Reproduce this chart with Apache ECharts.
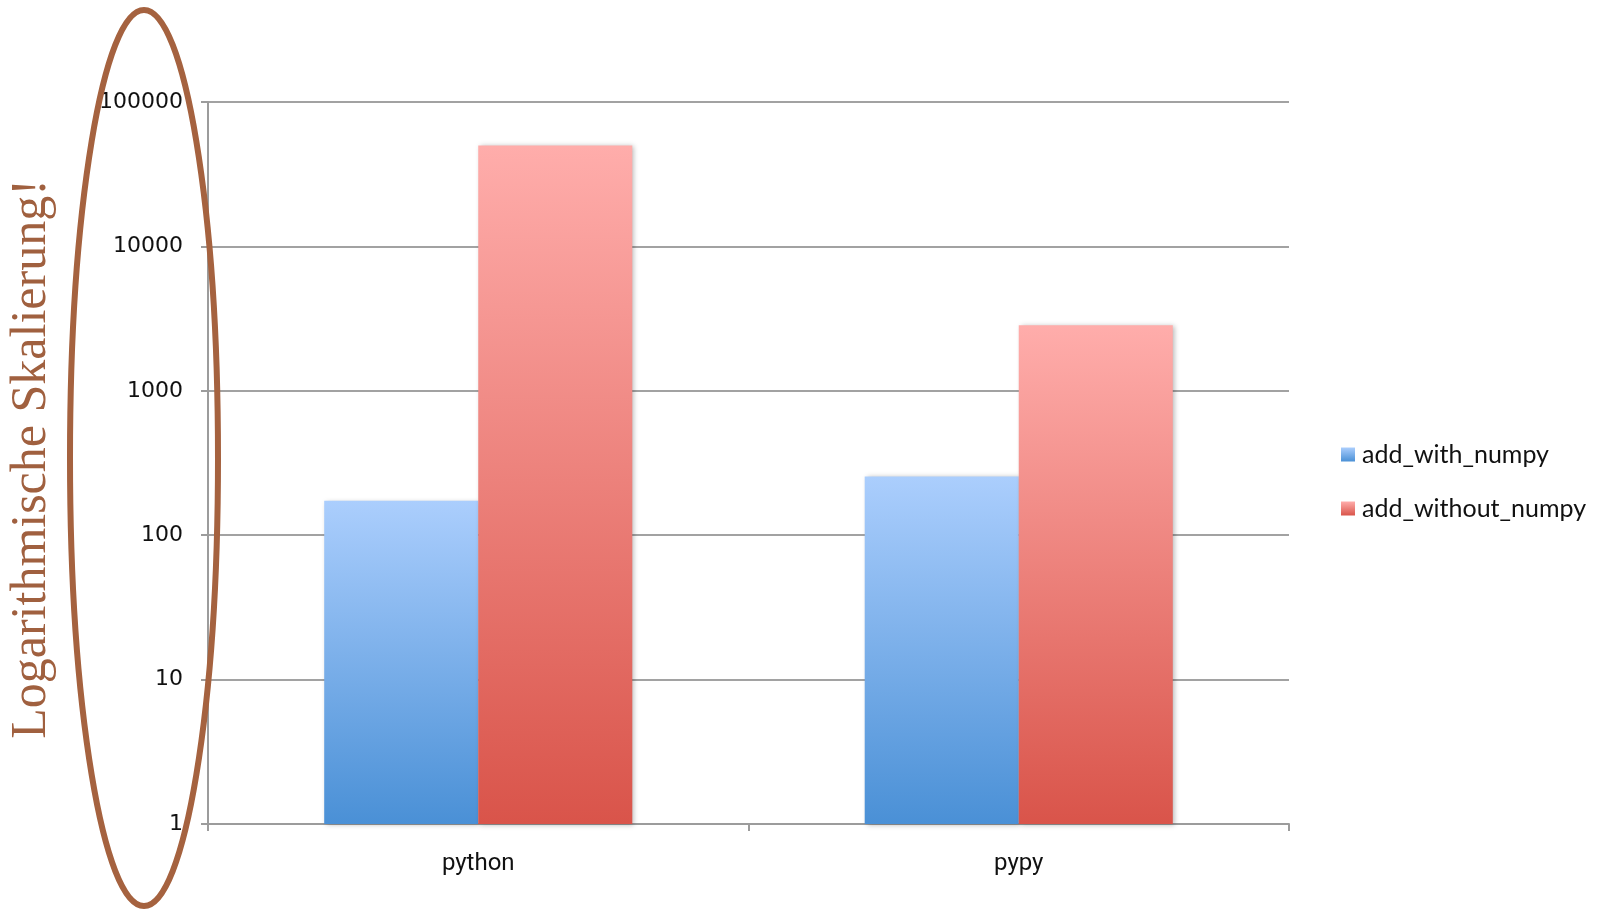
<!DOCTYPE html>
<html>
<head>
<meta charset="utf-8">
<script src="https://cdn.jsdelivr.net/npm/echarts@6/dist/echarts.min.js"></script>
<style>
  html, body { margin: 0; padding: 0; background: #fff; }
  #chart-panel { width: 1598px; height: 910px; }
</style>
</head>
<body>
<div id="chart-panel"></div>
<script>
const categories = ['python', 'pypy']
const seriesNames = ['add_with_numpy', 'add_without_numpy']
const withNumpy = [173, 255]
const withoutNumpy = [50000, 2840]
const yTicks = [1, 10, 100, 1000, 10000, 100000]

! function(){
    let myChart = echarts.init(document.getElementById('chart-panel'))

    /* 竖直渐变. */
    function grad(top, bottom) {
        return new echarts.graphic.LinearGradient(0, 0, 0, 1, [
            { offset: 0, color: top },
            { offset: 1, color: bottom }
        ])
    }

    let barShadow = {
        shadowBlur: 5,
        shadowOffsetX: 2,
        shadowOffsetY: 1,
        shadowColor: 'rgba(0,0,0,0.28)'
    }

    myChart.setOption({
        animation: false,
        grid: { left: 208, top: 102, right: 309, bottom: 86, outerBoundsMode: 'none', containLabel: false },
        legend: {
            orient: 'vertical',
            left: 1336,
            top: 437,
            itemWidth: 14,
            itemHeight: 14,
            itemGap: 29,
            icon: 'rect',
            textStyle: { fontFamily: 'Lato', fontSize: 25, color: '#111', padding: [0, 0, 0, 2] },
            data: seriesNames
        },
        xAxis: {
            type: 'category',
            data: categories,
            axisLine: { lineStyle: { color: '#9c9c9c', width: 2 } },
            axisTick: { show: true, length: 7, lineStyle: { color: '#9c9c9c', width: 2 } },
            axisLabel: { fontFamily: 'Liberation Sans Narrow, Roboto', fontSize: 24, color: '#111', margin: 28 }
        },
        yAxis: {
            type: 'log',
            logBase: 10,
            min: yTicks[0],
            max: yTicks[yTicks.length - 1],
            name: 'Logarithmische Skalierung!',
            nameLocation: 'middle',
            nameRotate: 90,
            nameGap: 151,
            nameTextStyle: { fontFamily: 'Liberation Serif', fontSize: 50, color: '#a0603f', padding: [0, 0, 0, 8] },
            axisLine: { show: true, lineStyle: { color: '#9c9c9c', width: 2 } },
            axisTick: { show: true, length: 7, lineStyle: { color: '#9c9c9c', width: 2 } },
            splitLine: { lineStyle: { color: '#a2a2a2', width: 2 } },
            axisLabel: {
                fontFamily: 'DejaVu Sans', fontSize: 22, color: '#111', margin: 25,
                formatter: function (v) { return String(Math.round(v)) }
            }
        },
        series: [
            {
                name: seriesNames[0],
                type: 'bar',
                data: withNumpy,
                barGap: '0%',
                barCategoryGap: '43%',
                itemStyle: Object.assign({ color: grad('#abcefd', '#4a90d6') }, barShadow)
            },
            {
                name: seriesNames[1],
                type: 'bar',
                data: withoutNumpy,
                barGap: '0%',
                barCategoryGap: '43%',
                itemStyle: Object.assign({ color: grad('#ffadab', '#d9544a') }, barShadow)
            }
        ],
        graphic: [
            {
                type: 'ellipse',
                z: 100,
                shape: { cx: 144, cy: 458, rx: 74, ry: 448 },
                style: { fill: 'none', stroke: '#a5623f', lineWidth: 6 }
            }
        ]
    })
}()
</script>
</body>
</html>
